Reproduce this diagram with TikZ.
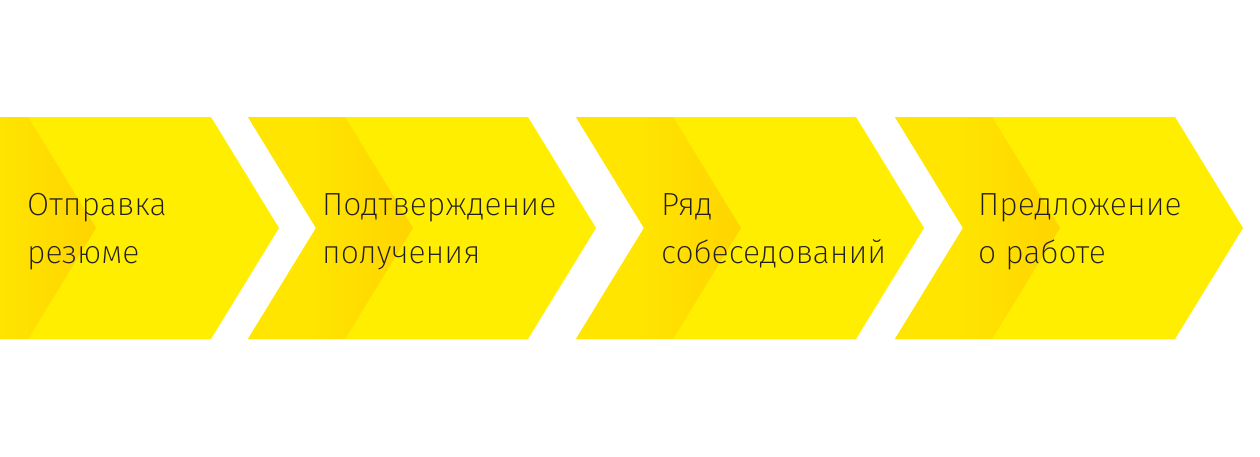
\documentclass[tikz,border=0pt]{standalone}
\usepackage{fontspec}
\setmainfont{Fira Sans}[UprightFont=* ExtraLight]
\definecolor{mainyel}{RGB}{255,238,0}
\definecolor{lefyel}{RGB}{255,229,0}
\definecolor{edgeyel}{RGB}{255,212,0}
\definecolor{txt}{RGB}{35,31,32}
\pgfdeclarehorizontalshading{chevshade}{100bp}{color(0bp)=(lefyel); color(25bp)=(lefyel); color(44bp)=(lefyel); color(75bp)=(edgeyel); color(100bp)=(edgeyel)}
\tikzset{
  lbl/.style={anchor=base west, align=left, inner sep=0pt, text=txt,
    font=\fontsize{32}{48}\selectfont},
}
\newcommand{\mychev}[1]{%
  \fill[mainyel] (#1,117) -- (#1+280,117) -- (#1+348,228) -- (#1+280,339) -- (#1,339) -- (#1+68,228) -- cycle;
  \shade[shading=chevshade] (#1,117) -- (#1+97,117) -- (#1+165,228) -- (#1+97,339) -- (#1,339) -- (#1+68,228) -- cycle;
}
\begin{document}
\begin{tikzpicture}[x=1pt,y=-1pt]
\useasboundingbox (0,0) rectangle (1260,456);
\begin{scope}
\clip (0,0) rectangle (1260,456);
\mychev{-69}
\mychev{248}
\mychev{576}
\mychev{895}
\end{scope}
\node[lbl] (t1) at (27,263) {Отправка\\резюме};
\node[lbl] (t2) at (322,263) {Подтверждение\\получения};
\node[lbl] (t3) at (661,263) {Ряд\\собеседований};
\node[lbl] (t4) at (978,263) {Предложение\\о работе};
\end{tikzpicture}
\end{document}
